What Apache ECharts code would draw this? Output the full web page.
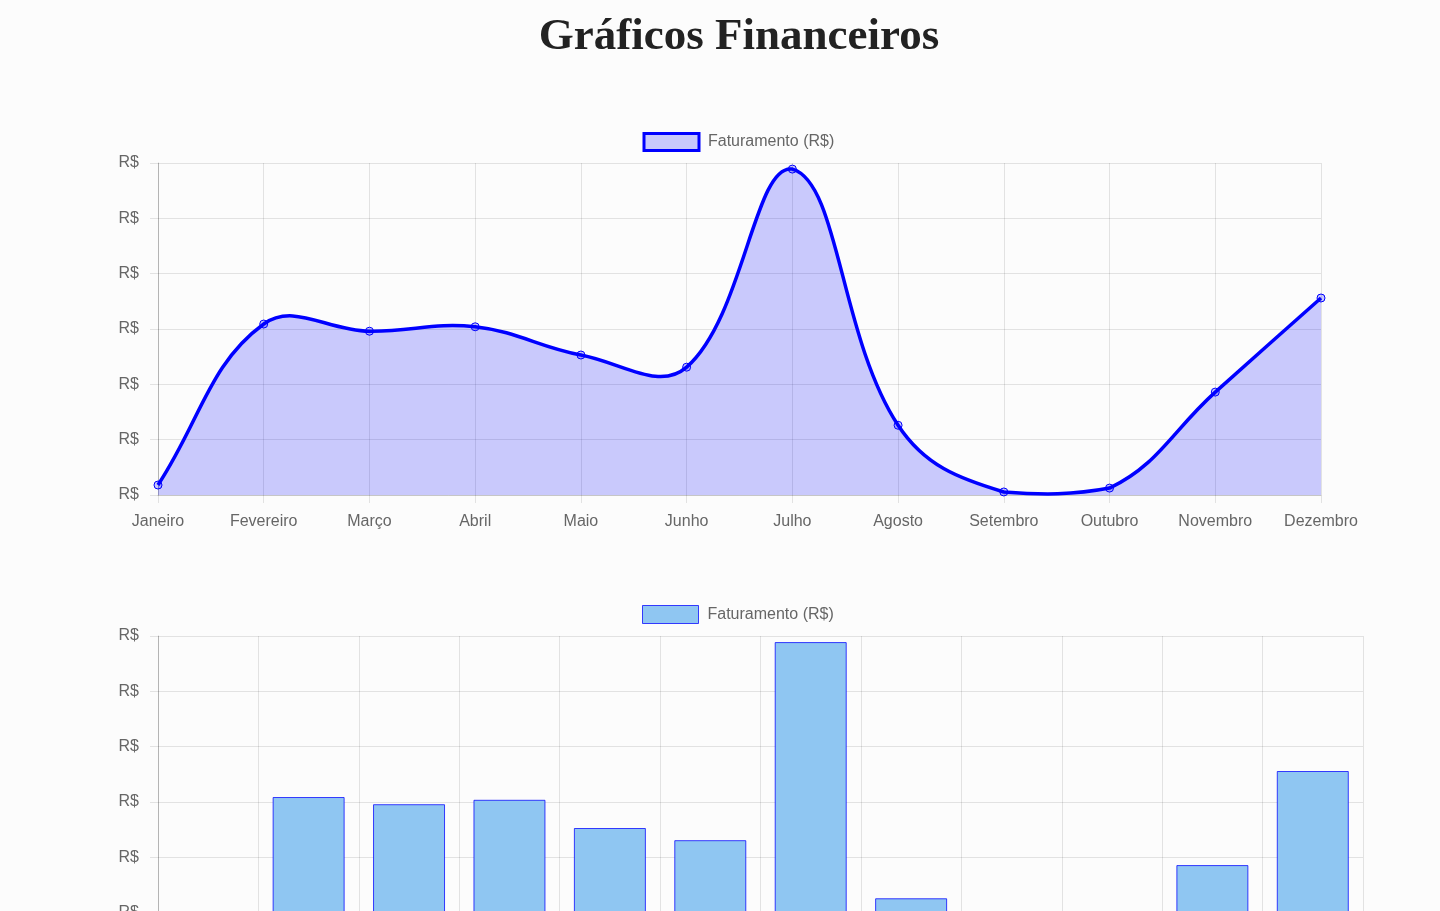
<!DOCTYPE html>
<html>
<head>
<meta charset="utf-8">
<script src="https://cdn.jsdelivr.net/npm/echarts@6/dist/echarts.min.js"></script>
<style>
html,body{margin:0;padding:0;background:#fcfcfc;overflow:hidden;}
#chart{width:1440px;height:1010px;}
</style>
</head>
<body>
<div id="chart"></div>
<script>
const titleText = 'Gráficos Financeiros';
const seriesName = 'Faturamento (R$)';
const months = ['Janeiro','Fevereiro','Março','Abril','Maio','Junho','Julho','Agosto','Setembro','Outubro','Novembro','Dezembro'];
const faturamento = [180, 3090, 2960, 3040, 2530, 2310, 5890, 1260, 55, 125, 1860, 3560];
const yTickLabel = 'R$';

const chart = echarts.init(document.getElementById('chart'));
const font = "'Liberation Sans', Arial, Helvetica, sans-serif";
const gridColor = 'rgba(0,0,0,0.1)';
const TENSION = 0.4;

// Spline with the same tension rule as the source chart; control points capped to the plot area
function splinePath(pts, box) {
  const clamp = (v, a, b) => Math.max(a, Math.min(b, v));
  const cap = p => [clamp(p[0], box.left, box.right), clamp(p[1], box.top, box.bottom)];
  const cps = pts.map((cur, i) => {
    const prev = pts[i - 1] || cur;
    const next = pts[i + 1] || cur;
    const d01 = Math.hypot(cur[0] - prev[0], cur[1] - prev[1]);
    const d12 = Math.hypot(next[0] - cur[0], next[1] - cur[1]);
    let s01 = d01 / (d01 + d12), s12 = d12 / (d01 + d12);
    if (!isFinite(s01)) s01 = 0;
    if (!isFinite(s12)) s12 = 0;
    const fa = TENSION * s01, fb = TENSION * s12;
    return {
      prev: cap([cur[0] - fa * (next[0] - prev[0]), cur[1] - fa * (next[1] - prev[1])]),
      next: cap([cur[0] + fb * (next[0] - prev[0]), cur[1] + fb * (next[1] - prev[1])])
    };
  });
  let d = 'M' + pts[0][0] + ' ' + pts[0][1];
  for (let i = 1; i < pts.length; i++) {
    const a = cps[i - 1].next, b = cps[i].prev, p = pts[i];
    d += ' C' + a[0] + ' ' + a[1] + ' ' + b[0] + ' ' + b[1] + ' ' + p[0] + ' ' + p[1];
  }
  return d;
}

const axisCommonY = {
  type: 'value', min: 0, max: 6000, interval: 1000,
  axisLine: {show: true, lineStyle: {color: 'rgba(0,0,0,0.2)', width: 1}},
  axisTick: {show: true, length: 8, lineStyle: {color: gridColor}},
  splitLine: {show: true, lineStyle: {color: gridColor}},
  axisLabel: {formatter: () => yTickLabel, color: '#666', fontSize: 16, fontFamily: font, margin: 19, padding: [3, 0, 0, 0]}
};
function xAxisDef(gridIndex, boundaryGap) {
  return {
    type: 'category', data: months, gridIndex: gridIndex, boundaryGap: boundaryGap,
    axisLine: {show: true, lineStyle: {color: 'rgba(0,0,0,0.12)'}},
    axisTick: {show: true, length: 8, lineStyle: {color: gridColor}},
    splitLine: {show: true, lineStyle: {color: gridColor}},
    axisLabel: {color: '#666', fontSize: 16, fontFamily: font, margin: 19, interval: 0}
  };
}
const option = {
  backgroundColor: '#fcfcfc',
  animation: false,
  graphic: [{
    type: 'text', x: 739, y: 37,
    style: {
      text: titleText, align: 'center', verticalAlign: 'middle',
      font: "bold 45px 'Liberation Serif', 'Times New Roman', serif", fill: '#222'
    }
  }],
  legend: [
    {
      left: 642.5, top: 132, padding: 0, itemWidth: 55, itemHeight: 17, itemGap: 8,
      textStyle: {color: '#666', fontSize: 16, fontFamily: font, padding: [0, 0, 0, 4]},
      data: [{name: seriesName, icon: 'rect', itemStyle: {color: 'rgba(0,0,255,0.2)', borderColor: '#0000ff', borderWidth: 3}}],
      selectedMode: false
    },
    {
      left: 642, top: 605, padding: 0, itemWidth: 56, itemHeight: 18, itemGap: 8,
      textStyle: {color: '#666', fontSize: 16, fontFamily: font, padding: [0, 0, 0, 4]},
      data: [{name: seriesName, icon: 'rect', itemStyle: {color: '#8fc6f2', borderColor: 'rgba(0,0,255,0.75)', borderWidth: 1}}],
      selectedMode: false
    }
  ],
  grid: [
    {left: 158, top: 163, width: 1163, height: 332},
    {left: 158, top: 636, width: 1205, height: 332}
  ],
  xAxis: [xAxisDef(0, false), xAxisDef(1, true)],
  yAxis: [
    Object.assign({gridIndex: 0}, axisCommonY),
    Object.assign({gridIndex: 1}, axisCommonY)
  ],
  series: [
    {
      name: seriesName, type: 'custom', xAxisIndex: 0, yAxisIndex: 0,
      data: faturamento.map((v, i) => [i, v]),
      encode: {x: 0, y: 1},
      z: 1, silent: true,
      renderItem: function (params, api) {
        if (params.dataIndex !== 0) return null;
        const pts = faturamento.map((v, i) => api.coord([i, v]));
        const topLeft = api.coord([0, 6000]);
        const bottomRight = api.coord([months.length - 1, 0]);
        const box = {left: topLeft[0], top: topLeft[1], right: bottomRight[0], bottom: bottomRight[1]};
        const line = splinePath(pts, box);
        const area = line + ' L' + pts[pts.length - 1][0] + ' ' + box.bottom + ' L' + pts[0][0] + ' ' + box.bottom + ' Z';
        return {
          type: 'group',
          children: [
            {type: 'path', shape: {pathData: area}, style: {fill: 'rgba(0,0,255,0.2)', stroke: null}},
            {type: 'path', shape: {pathData: line}, style: {fill: null, stroke: '#0000ff', lineWidth: 3.5}}
          ]
        };
      }
    },
    {
      name: seriesName, type: 'line', xAxisIndex: 0, yAxisIndex: 0,
      data: faturamento, z: 3,
      symbol: 'circle', symbolSize: 8,
      lineStyle: {width: 0, opacity: 0},
      itemStyle: {color: 'rgba(0,0,255,0.2)', borderColor: '#0000ff', borderWidth: 1}
    },
    {
      name: seriesName, type: 'bar', xAxisIndex: 1, yAxisIndex: 1,
      data: faturamento, barWidth: 72,
      itemStyle: {color: '#8fc6f2', borderColor: 'rgba(0,0,255,0.75)', borderWidth: 1}
    }
  ]
};
chart.setOption(option);
</script>
</body>
</html>
